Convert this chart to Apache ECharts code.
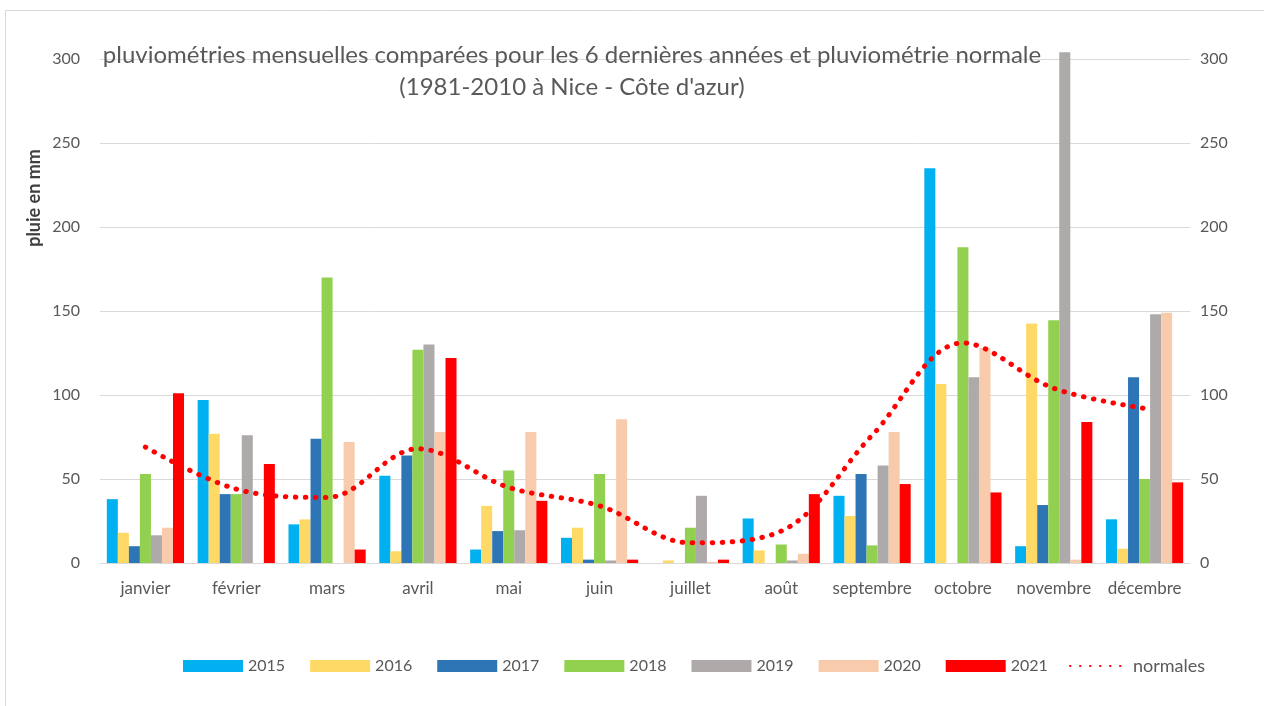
<!DOCTYPE html>
<html>
<head>
<meta charset="utf-8">
<script src="https://cdn.jsdelivr.net/npm/echarts@6/dist/echarts.min.js"></script>
<style>
  html, body { margin: 0; padding: 0; background: #fff; }
  #chart { width: 1264px; height: 706px; }
</style>
</head>
<body>
<div id="chart"></div>
<script>
var months = ['janvier', 'février', 'mars', 'avril', 'mai', 'juin', 'juillet', 'août', 'septembre', 'octobre', 'novembre', 'décembre'];
var yTicks = [0, 50, 100, 150, 200, 250, 300];

var y2015 = [38, 97, 23, 52, 8, 15, 0, 26.5, 40, 235, 10, 26];
var y2016 = [18, 77, 26, 7, 34, 21, 1.5, 7.5, 28, 106.5, 142.5, 8.5];
var y2017 = [10, 41, 74, 64, 19, 2, 0, 0, 53, 0, 34.5, 110.5];
var y2018 = [53, 41, 170, 127, 55, 53, 21, 11, 10.5, 188, 144.5, 50];
var y2019 = [16.5, 76, 0, 130, 19.5, 1.5, 40, 1.5, 58, 110.5, 304, 148];
var y2020 = [21, 0, 72, 78, 78, 85.5, 0.7, 5.5, 78, 128, 2, 149];
var y2021 = [101, 59, 8, 122, 37, 2, 2, 41, 47, 42, 84, 48];
var normales = [69, 44, 39, 68, 45, 34, 12, 19, 76, 131, 104, 92];

var yearNames = ['2015', '2016', '2017', '2018', '2019', '2020', '2021'];
var yearData = [y2015, y2016, y2017, y2018, y2019, y2020, y2021];
var yearColors = ['#00B0F0', '#FFD966', '#2E75B6', '#92D050', '#AEAAAA', '#F8CBAD', '#FF0000'];

var font = 'Lato, "Open Sans", sans-serif';
var chart = echarts.init(document.getElementById('chart'));

var series = yearNames.map(function (name, i) {
  return {
    name: name,
    type: 'bar',
    data: yearData[i],
    barGap: '0%',
    barCategoryGap: '15%',
    clip: false,
    itemStyle: { color: yearColors[i] }
  };
});
series.push({
  name: 'normales',
  type: 'line',
  yAxisIndex: 1,
  data: normales,
  smooth: 0.35,
  symbol: 'none',
  z: 5,
  itemStyle: { color: '#FF0000' },
  lineStyle: { color: '#FF0000', width: 5, type: [0.5, 9.5], cap: 'round' }
});

var option = {
  backgroundColor: '#fff',
  animation: false,
  textStyle: { fontFamily: font },
  title: {
    text: 'pluviométries mensuelles comparées pour les 6 dernières années et pluviométrie normale\n(1981-2010 à Nice - Côte d\'azur)',
    left: 567,
    top: 34,
    textAlign: 'center',
    textStyle: { color: '#595959', fontSize: 24, fontWeight: 'normal', fontFamily: font, lineHeight: 32 }
  },
  grid: { left: 100, right: 74, top: 59, bottom: 143 },
  legend: [{
    data: yearNames,
    left: 178,
    top: 653,
    itemWidth: 60,
    itemHeight: 12,
    itemGap: 25,
    icon: 'rect',
    textStyle: { color: '#595959', fontSize: 16, fontFamily: font }
  }, {
    data: [{ name: 'normales', itemStyle: { opacity: 0 } }],
    left: 1064,
    top: 652,
    itemWidth: 58,
    itemHeight: 12,
    textStyle: { color: '#595959', fontSize: 18, fontFamily: font }
  }],
  xAxis: {
    type: 'category',
    data: months,
    axisLine: { lineStyle: { color: '#D9D9D9' } },
    axisTick: { show: false },
    axisLabel: { color: '#595959', fontSize: 17, margin: 17, interval: 0, fontFamily: font }
  },
  yAxis: [{
    type: 'value',
    min: yTicks[0],
    max: yTicks[yTicks.length - 1],
    interval: 50,
    axisLine: { show: false },
    axisTick: { show: false },
    splitLine: { lineStyle: { color: '#D9D9D9' } },
    axisLabel: { color: '#595959', fontSize: 16, margin: 20, fontFamily: font }
  }, {
    type: 'value',
    min: yTicks[0],
    max: yTicks[yTicks.length - 1],
    interval: 50,
    position: 'right',
    axisLine: { show: false },
    axisTick: { show: false },
    splitLine: { show: false },
    axisLabel: { color: '#595959', fontSize: 16, margin: 10, fontFamily: font }
  }],
  graphic: [{
    type: 'rect',
    shape: { x: 5.5, y: 10.5, width: 1300, height: 720 },
    style: { fill: 'none', stroke: '#D9D9D9', lineWidth: 1 },
    silent: true
  }, {
    type: 'text',
    x: 34,
    y: 198,
    rotation: Math.PI / 2,
    style: {
      text: 'pluie en mm',
      fill: '#404040',
      font: 'bold 18px ' + font,
      align: 'center',
      verticalAlign: 'middle'
    }
  }],
  series: series
};
chart.setOption(option);
</script>
</body>
</html>
